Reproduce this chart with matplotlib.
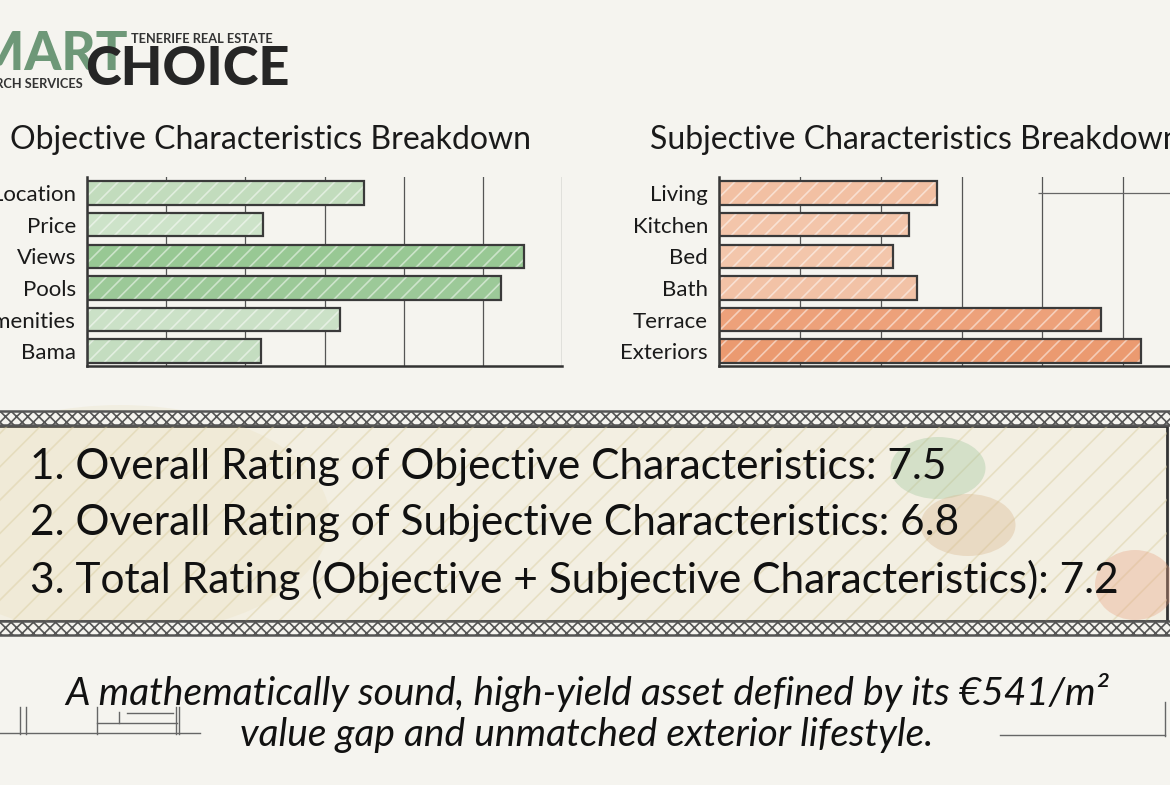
"""Tenerife property scorecard: objective / subjective breakdown bars + rating box."""
import matplotlib
matplotlib.use("Agg")
import matplotlib.pyplot as plt
from matplotlib.patches import Rectangle, Ellipse

plt.rcParams["font.family"] = ["Lato", "DejaVu Sans"]
plt.rcParams["hatch.linewidth"] = 1.2

# ---- data (arbitrary 0-12 scale) ----
obj_labels = ["Location", "Price", "Views", "Pools", "Amenities", "Bama"]
obj_scores = [7.0, 4.45, 11.05, 10.45, 6.4, 4.4]
subj_labels = ["Living", "Kitchen", "Bed", "Bath", "Terrace", "Exteriors"]
subj_scores = [5.4, 4.7, 4.3, 4.9, 9.45, 10.45]
rating_names = [
    "1. Overall Rating of Objective Characteristics",
    "2. Overall Rating of Subjective Characteristics",
    "3. Total Rating (Objective + Subjective Characteristics)",
]
rating_values = [7.5, 6.8, 7.2]
tagline = ("A mathematically sound, high-yield asset defined by its \u20ac541/m\u00b2\n"
           "value gap and unmatched exterior lifestyle.")

# styles
obj_colors = ["#c2dcbd", "#cde3c9", "#98c894", "#9cc998", "#cbe1c7", "#c4ddc0"]
subj_colors = ["#f2c0a3", "#f3c5aa", "#f3c6ab", "#f2c2a6", "#eda17a", "#eb9a70"]
PAPER = "#f5f4ef"
INK = "#333333"
W, H = 1170, 785


def px(x, y):
    return x / W, 1 - y / H


fig = plt.figure(figsize=(W / 100, H / 100), dpi=100, facecolor=PAPER)

# background overlay in pixel coords for the decorations
bg = fig.add_axes([0, 0, 1, 1])
bg.set_xlim(0, W)
bg.set_ylim(H, 0)
bg.axis("off")
bg.set_zorder(-1)


def bar_panel(rect, labels, scores, colors):
    ax = fig.add_axes(rect)
    ax.set_facecolor("none")
    ypos = list(range(len(labels)))
    ax.barh(ypos, scores, height=0.74, color=colors, edgecolor=(1, 1, 1, 0.5),
            linewidth=0, hatch="//", zorder=2)
    ax.barh(ypos, scores, height=0.74, color="none", edgecolor="#3a3a3a",
            linewidth=1.6, zorder=3)
    ax.set_xlim(0, 12)
    ax.set_ylim(5.47, -0.51)
    ax.set_yticks(ypos)
    ax.set_yticklabels(labels, fontsize=16, color="#1a1a1a")
    ax.set_xticks([2, 4, 6, 8, 10, 12])
    ax.set_xticklabels([])
    ax.tick_params(length=0, pad=8)
    ax.grid(axis="x", color="#555555", linewidth=0.9)
    ax.set_axisbelow(True)
    for s in ("top", "right"):
        ax.spines[s].set_visible(False)
    for s in ("left", "bottom"):
        ax.spines[s].set_color(INK)
        ax.spines[s].set_linewidth(1.8)
    return ax


bar_panel([87 / W, 1 - 366 / H, 475 / W, 189 / H], obj_labels, obj_scores, obj_colors)
ax_r = bar_panel([719 / W, 1 - 366 / H, 485 / W, 189 / H], subj_labels, subj_scores, subj_colors)
ax_r.hlines(0, 7.9, 12, color="#666666", linewidth=0.9, zorder=1)

fig.text(*px(10, 140), "Objective Characteristics Breakdown", fontsize=23,
         va="center", ha="left", color="#1a1a1a")
fig.text(*px(650, 140), "Subjective Characteristics Breakdown", fontsize=23,
         va="center", ha="left", color="#1a1a1a")

# ---- logo ----
fig.text(*px(128, 70), "SMART", fontsize=38, fontweight="black", color="#6e9878",
         ha="right", va="baseline")
fig.text(*px(85, 85), "CHOICE", fontsize=39, fontweight="black", color="#262626",
         ha="left", va="baseline")
fig.text(*px(131, 43), "TENERIFE REAL ESTATE", fontsize=9.2, fontweight="bold",
         color="#333333", ha="left", va="baseline")
fig.text(*px(83, 88), "SEARCH SERVICES", fontsize=9.2, fontweight="bold",
         color="#333333", ha="right", va="baseline")

# ---- rating box ----
bg.add_patch(Rectangle((-10, 426), 1177, 195, facecolor="#f3efe2", edgecolor=INK,
                       linewidth=2.0, zorder=1))
bg.add_patch(Ellipse((120, 520), 420, 230, facecolor="#e4d6a6", alpha=0.18, zorder=1))
bg.add_patch(Rectangle((-10, 426), 1177, 195, facecolor="none",
                       edgecolor=(0.85, 0.80, 0.62, 0.45), linewidth=0, hatch="/", zorder=1))
bg.add_patch(Ellipse((938, 468), 95, 62, facecolor="#9cc49a", alpha=0.35, zorder=1))
bg.add_patch(Ellipse((968, 525), 95, 62, facecolor="#d8b48a", alpha=0.35, zorder=1))
bg.add_patch(Ellipse((1135, 585), 80, 70, facecolor="#e8a080", alpha=0.35, zorder=1))
for y0 in (411, 621):
    bg.add_patch(Rectangle((-10, y0), 1200, 14, facecolor=PAPER, edgecolor="#555555",
                           linewidth=1.8, hatch="xxx", zorder=1))

for i, (name, val) in enumerate(zip(rating_names, rating_values)):
    fig.text(*px(30, 467 + i * 56.5), f"{name}: {val}", fontsize=30.5,
             color="#111111", ha="left", va="center")

# ---- tagline ----
fig.text(*px(587, 713), tagline, fontsize=28, style="italic", ha="center", va="center",
         color="#111111", linespacing=1.2)

# sketchy bits at the bottom
sk = dict(color="#666666", linewidth=1.0)
bg.plot([0, 200], [733, 733], **sk)
for x in (20, 26, 97, 176, 179):
    bg.plot([x, x], [707, 734], **sk)
bg.plot([97, 177], [723, 723], **sk)
bg.plot([119, 119], [712, 723], **sk)
bg.plot([127, 173], [713, 713], **sk)
bg.plot([1000, 1165], [735, 735], **sk)
bg.plot([1165, 1165], [702, 736], **sk)

fig.savefig("out.png", dpi=100, facecolor=PAPER)
